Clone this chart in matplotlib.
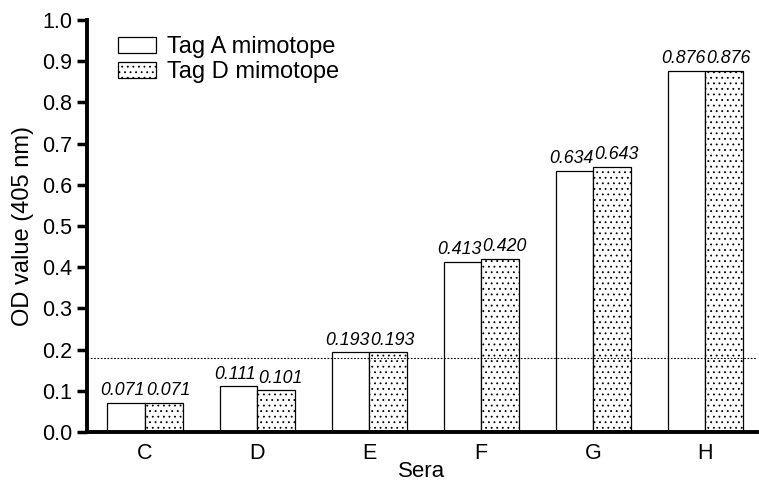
import numpy as np
import matplotlib
matplotlib.use('Agg')
import matplotlib.pyplot as plt

plt.rcParams['font.family'] = ['Liberation Sans', 'DejaVu Sans']
plt.rcParams['hatch.linewidth'] = 0.6

sera = ['C', 'D', 'E', 'F', 'G', 'H']
tag_a = [0.071, 0.111, 0.193, 0.413, 0.634, 0.876]
tag_d = [0.071, 0.101, 0.193, 0.420, 0.643, 0.876]
cutoff = 0.179

fig = plt.figure(figsize=(7.59, 4.84), dpi=100)
ax = fig.add_axes([0.1146, 0.1074, 0.8824, 0.8513])

x = np.arange(len(sera))
w = 0.335
ax.bar(x - w/2, tag_a, w, color='white', edgecolor='black', linewidth=0.9, label='Tag A mimotope')
ax.bar(x + w/2, tag_d, w, color='white', edgecolor='black', linewidth=0.9, hatch='...', label='Tag D mimotope')

# value labels above each bar
for i in range(len(sera)):
    ax.text(x[i] - w/2 - 0.03, tag_a[i] + 0.009, '%.3f' % tag_a[i], ha='center', va='bottom',
            fontsize=12.8, style='italic')
    ax.text(x[i] + w/2 + 0.04, tag_d[i] + 0.009, '%.3f' % tag_d[i], ha='center', va='bottom',
            fontsize=12.8, style='italic')

ax.axhline(cutoff, color='black', linestyle=(0, (1.5, 1.5)), linewidth=0.8)

ax.set_xlim(-0.518, 5.46)
ax.set_ylim(0, 1.0)
ax.set_yticks(np.arange(0, 1.01, 0.1))
ax.set_yticklabels(['%.1f' % v for v in np.arange(0, 1.01, 0.1)])
ax.set_xticks(x)
ax.set_xticklabels(sera)
ax.tick_params(axis='both', labelsize=15.5, width=2.5, length=7, direction='out')
ax.tick_params(axis='x', length=0, pad=8)
for s in ['top', 'right']:
    ax.spines[s].set_visible(False)
for s in ['left', 'bottom']:
    ax.spines[s].set_linewidth(2.8)

ax.set_xlabel('Sera', fontsize=16, labelpad=-2)
ax.set_ylabel('OD value (405 nm)', fontsize=17, labelpad=6)

ax.legend(loc='upper left', bbox_to_anchor=(0.046, 0.96), frameon=False, fontsize=17,
          handlelength=1.6, handleheight=0.65, handletextpad=0.5, labelspacing=0.12,
          borderaxespad=0, borderpad=0)

plt.savefig('out.png', dpi=100)
